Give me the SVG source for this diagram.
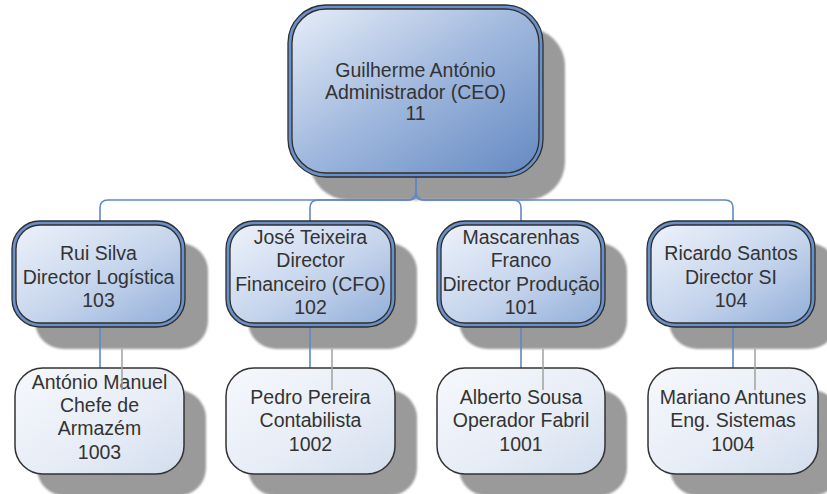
<svg xmlns="http://www.w3.org/2000/svg" width="827" height="494" viewBox="0 0 827 494">
  <defs>
    <linearGradient id="gCeo" x1="0" y1="0" x2="1" y2="1">
      <stop offset="0" stop-color="#e6edf8"/>
      <stop offset="0.5" stop-color="#9fb7dd"/>
      <stop offset="1" stop-color="#6489c2"/>
    </linearGradient>
    <linearGradient id="gDir" x1="0" y1="0" x2="1" y2="1">
      <stop offset="0" stop-color="#edf2fa"/>
      <stop offset="0.55" stop-color="#c5d4ec"/>
      <stop offset="1" stop-color="#92aed9"/>
    </linearGradient>
    <linearGradient id="gEmp" x1="0" y1="0" x2="1" y2="1">
      <stop offset="0" stop-color="#f6f8fc"/>
      <stop offset="0.6" stop-color="#e6ecf6"/>
      <stop offset="1" stop-color="#d2ddee"/>
    </linearGradient>
    <filter id="soft" x="-5%" y="-5%" width="110%" height="110%">
      <feGaussianBlur stdDeviation="1"/>
    </filter>
  </defs>
  <style>
    .shadow { fill: #9a9a9a; filter: url(#soft); }
    .band { fill: #6a90ca; stroke: #2e2e2e; stroke-width: 1.3; }
    .inner { stroke: #2e2e2e; stroke-width: 1.3; }
    .emp { fill: url(#gEmp); stroke: #333333; stroke-width: 1.5; }
    .link { fill: none; stroke: #5f88c8; stroke-width: 1.6; }
    .linkShadow { fill: none; stroke: #a0a0a0; stroke-width: 1.5; }
    text { font-family: "Liberation Sans", Arial, sans-serif; font-size: 19.5px; fill: #333333; text-anchor: middle; }
  </style>

  <rect width="827" height="494" fill="#ffffff"/>

  <!-- drop shadows -->
  <g id="shadows">
    <rect class="shadow" x="310" y="28" width="255" height="172" rx="38"/>
    <rect class="shadow" x="35" y="243" width="173" height="106" rx="28"/>
    <rect class="shadow" x="248" y="243" width="169" height="106" rx="28"/>
    <rect class="shadow" x="459" y="243" width="168" height="106" rx="28"/>
    <rect class="shadow" x="669" y="243" width="168" height="106" rx="28"/>
    <rect class="shadow" x="37" y="390" width="169" height="106" rx="28"/>
    <rect class="shadow" x="248" y="390" width="169" height="106" rx="28"/>
    <rect class="shadow" x="459" y="390" width="168" height="106" rx="28"/>
    <rect class="shadow" x="670" y="390" width="170" height="106" rx="28"/>
  </g>

  <!-- reporting lines -->
  <g id="connectors">
    <path class="link" d="M416 177 V192 Q416 200 408 200 H108 Q100 200 100 208 V221"/>
    <path class="link" d="M416 177 V192 Q416 200 408 200 H318 Q310 200 310 208 V221"/>
    <path class="link" d="M416 177 V192 Q416 200 424 200 H513 Q521 200 521 208 V221"/>
    <path class="link" d="M416 177 V192 Q416 200 424 200 H725 Q733 200 733 208 V221"/>
    <path class="link" d="M100 327 V368"/>
    <path class="link" d="M310 327 V368"/>
    <path class="link" d="M521 327 V368"/>
    <path class="link" d="M733 327 V368"/>
  </g>

  <!-- CEO -->
  <g id="n11">
    <rect class="band" x="288" y="5" width="255" height="172" rx="38"/>
    <rect class="inner" fill="url(#gCeo)" x="292" y="9" width="247" height="164" rx="34"/>
    <text x="415.5" y="77">Guilherme António</text>
    <text x="415.5" y="99">Administrador (CEO)</text>
    <text x="415.5" y="120">11</text>
  </g>

  <!-- directors -->
  <g id="n103">
    <rect class="band" x="12" y="221" width="173" height="106" rx="28"/>
    <rect class="inner" fill="url(#gDir)" x="16" y="225" width="165" height="98" rx="24"/>
    <text x="98.5" y="260">Rui Silva</text>
    <text x="98.5" y="284">Director Logística</text>
    <text x="98.5" y="307">103</text>
  </g>
  <g id="n102">
    <rect class="band" x="226" y="221" width="169" height="106" rx="28"/>
    <rect class="inner" fill="url(#gDir)" x="230" y="225" width="161" height="98" rx="24"/>
    <text x="310.5" y="244">José Teixeira</text>
    <text x="310.5" y="267">Director</text>
    <text x="310.5" y="291">Financeiro (CFO)</text>
    <text x="310.5" y="314">102</text>
  </g>
  <g id="n101">
    <rect class="band" x="437" y="221" width="168" height="106" rx="28"/>
    <rect class="inner" fill="url(#gDir)" x="441" y="225" width="160" height="98" rx="24"/>
    <text x="521" y="244">Mascarenhas</text>
    <text x="521" y="267">Franco</text>
    <text x="521" y="291">Director Produção</text>
    <text x="521" y="314">101</text>
  </g>
  <g id="n104">
    <rect class="band" x="647" y="221" width="168" height="106" rx="28"/>
    <rect class="inner" fill="url(#gDir)" x="651" y="225" width="160" height="98" rx="24"/>
    <text x="731" y="260">Ricardo Santos</text>
    <text x="731" y="284">Director SI</text>
    <text x="731" y="307">104</text>
  </g>

  <!-- staff -->
  <g id="n1003">
    <rect class="emp" x="15" y="368" width="169" height="106" rx="28"/>
    <text x="99.5" y="389">António Manuel</text>
    <text x="99.5" y="412">Chefe de</text>
    <text x="99.5" y="435">Armazém</text>
    <text x="99.5" y="459">1003</text>
  </g>
  <g id="n1002">
    <rect class="emp" x="226" y="368" width="169" height="106" rx="28"/>
    <text x="310.5" y="404">Pedro Pereira</text>
    <text x="310.5" y="427">Contabilista</text>
    <text x="310.5" y="451">1002</text>
  </g>
  <g id="n1001">
    <rect class="emp" x="437" y="368" width="168" height="106" rx="28"/>
    <text x="521" y="404">Alberto Sousa</text>
    <text x="521" y="427">Operador Fabril</text>
    <text x="521" y="451">1001</text>
  </g>
  <g id="n1004">
    <rect class="emp" x="648" y="368" width="170" height="106" rx="28"/>
    <text x="733" y="404">Mariano Antunes</text>
    <text x="733" y="427">Eng. Sistemas</text>
    <text x="733" y="451">1004</text>
  </g>

  <!-- cast shadows of the lower reporting lines -->
  <g id="connector-shadows">
    <path class="linkShadow" d="M122 349 V390"/>
    <path class="linkShadow" d="M332 349 V390"/>
    <path class="linkShadow" d="M543 349 V390"/>
    <path class="linkShadow" d="M755 349 V390"/>
  </g>
</svg>
